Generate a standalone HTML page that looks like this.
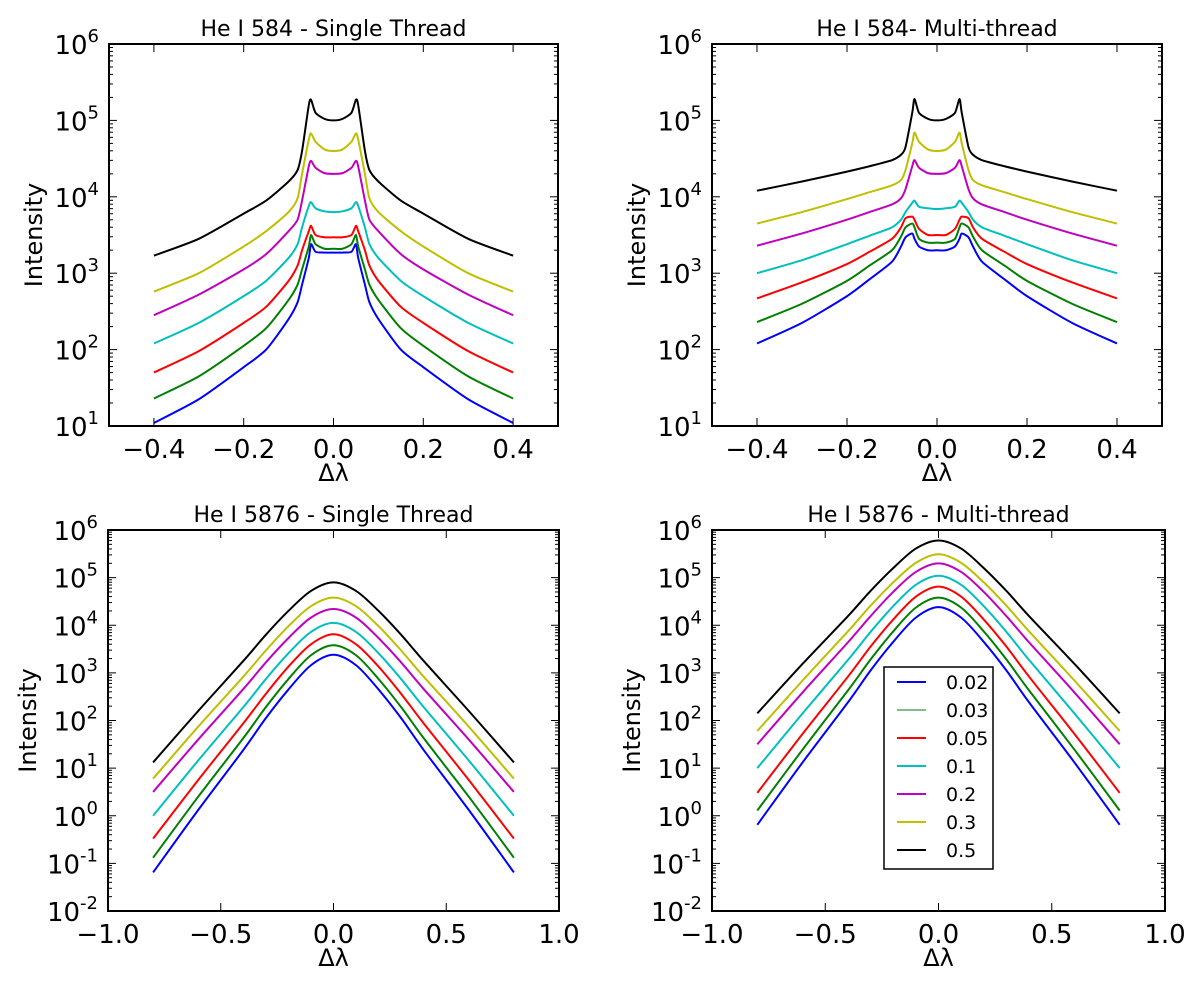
<!DOCTYPE html>
<html><head><meta charset="utf-8"><style>
html,body{margin:0;padding:0;background:#fff;}
svg text{font-family:"DejaVu Sans","Liberation Sans",sans-serif;fill:#000;}
</style></head><body>
<svg id="fig" width="1200" height="993" viewBox="0 0 1200 993" xmlns="http://www.w3.org/2000/svg"></svg>
<script>
const seriesNames = ["0.02","0.03","0.05","0.1","0.2","0.3","0.5"];
const colors = ["#0000ff","#008000","#ff0000","#00bfbf","#bf00bf","#bfbf00","#000000"];

// Top panels: half-profile x grid (mirrored), values are log10(intensity)
const xTop = [-0.4,-0.3,-0.2,-0.15,-0.1,-0.08,-0.07,-0.055,-0.05,-0.04,-0.02,0];
const tlBlue    = [1.04,1.35,1.77,2.0,2.4,2.62,2.85,3.2,3.38,3.28,3.27,3.27];
const tlGreen   = [1.36,1.65,2.05,2.28,2.65,2.85,3.05,3.35,3.5,3.38,3.32,3.32];
const tlRed     = [1.7,1.98,2.35,2.56,2.9,3.1,3.3,3.55,3.62,3.5,3.47,3.47];
const tlCyan    = [2.08,2.35,2.7,2.9,3.2,3.38,3.6,3.88,3.93,3.85,3.81,3.8];
const tlMagenta = [2.45,2.72,3.05,3.25,3.55,3.7,3.95,4.4,4.47,4.38,4.31,4.3];
const tlYellow  = [2.76,3.0,3.35,3.55,3.8,3.98,4.3,4.75,4.83,4.72,4.62,4.6];
const tlBlack   = [3.23,3.45,3.78,3.95,4.2,4.35,4.6,5.2,5.27,5.1,5.02,5.0];

const trBlue    = [2.08,2.35,2.7,2.92,3.15,3.35,3.47,3.52,3.45,3.35,3.3,3.3];
const trGreen   = [2.36,2.6,2.9,3.1,3.3,3.48,3.6,3.65,3.6,3.45,3.4,3.4];
const trRed     = [2.67,2.88,3.12,3.28,3.45,3.6,3.72,3.74,3.7,3.58,3.5,3.5];
const trCyan    = [3.0,3.17,3.38,3.49,3.6,3.7,3.8,3.92,3.95,3.87,3.85,3.84];
const trMagenta = [3.36,3.52,3.7,3.8,3.9,3.98,4.1,4.4,4.48,4.38,4.31,4.3];
const trYellow  = [3.65,3.8,3.97,4.06,4.15,4.22,4.35,4.7,4.84,4.72,4.62,4.6];
const trBlack   = [4.08,4.2,4.33,4.4,4.48,4.55,4.65,5.1,5.28,5.1,5.02,5.0];

// Bottom panels
const xBot = [-0.8,-0.6,-0.4,-0.3,-0.2,-0.1,0];
const blBlue    = [-1.19,0.12,1.38,2.05,2.65,3.16,3.38];
const blGreen   = [-0.88,0.40,1.63,2.28,2.87,3.37,3.58];
const blRed     = [-0.48,0.75,1.94,2.56,3.13,3.60,3.81];
const blCyan    = [0.0,1.16,2.28,2.87,3.41,3.86,4.05];
const blMagenta = [0.50,1.60,2.66,3.22,3.73,4.16,4.34];
const blYellow  = [0.78,1.87,2.92,3.47,3.98,4.40,4.58];
const blBlack   = [1.12,2.2,3.25,3.8,4.3,4.72,4.9];

const brBlue    = [-0.19,1.12,2.38,3.05,3.65,4.16,4.38];
const brGreen   = [0.11,1.39,2.63,3.28,3.87,4.37,4.58];
const brRed     = [0.48,1.72,2.92,3.55,4.12,4.60,4.81];
const brCyan    = [1.0,2.15,3.27,3.86,4.40,4.85,5.04];
const brMagenta = [1.50,2.59,3.64,4.19,4.70,5.12,5.30];
const brYellow  = [1.78,2.84,3.87,4.41,4.90,5.31,5.49];
const brBlack   = [2.15,3.19,4.19,4.72,5.20,5.61,5.78];

const xTicksTop = [-0.4,-0.2,0.0,0.2,0.4];
const xTickLabelsTop = ["\u22120.4","\u22120.2","0.0","0.2","0.4"];
const xTicksBot = [-1.0,-0.5,0.0,0.5,1.0];
const xTickLabelsBot = ["\u22121.0","\u22120.5","0.0","0.5","1.0"];

const NS="http://www.w3.org/2000/svg";
const svg=document.getElementById('fig');
function mk(tag,attrs,parent){const e=document.createElementNS(NS,tag);for(const k in attrs)e.setAttribute(k,attrs[k]);(parent||svg).appendChild(e);return e;}

function panel(cfg){
  const g=mk('g',{});
  
  
  const {L,R,T,B,xmin,xmax,ymin,ymax}=cfg;
  const sx=v=>L+(v-xmin)/(xmax-xmin)*(R-L);
  const sy=v=>B-(v-ymin)/(ymax-ymin)*(B-T);
  // curves
  cfg.series.forEach((half,i)=>{
    const xs=cfg.xs.slice(), ys=half.slice();
    for(let j=cfg.xs.length-2;j>=0;j--){xs.push(-cfg.xs[j]);ys.push(half[j]);}
    const pts=xs.map((x,j)=>[sx(x),sy(ys[j])]);
    let d='M'+pts[0][0].toFixed(2)+','+pts[0][1].toFixed(2);
    for(let j=0;j<pts.length-1;j++){
      const p0=pts[Math.max(0,j-1)],p1=pts[j],p2=pts[j+1],p3=pts[Math.min(pts.length-1,j+2)];
      const t=cfg.smooth;
      const c1=[p1[0]+(p2[0]-p0[0])*t,p1[1]+(p2[1]-p0[1])*t];
      const c2=[p2[0]-(p3[0]-p1[0])*t,p2[1]-(p3[1]-p1[1])*t];
      d+='C'+c1[0].toFixed(2)+','+c1[1].toFixed(2)+' '+c2[0].toFixed(2)+','+c2[1].toFixed(2)+' '+p2[0].toFixed(2)+','+p2[1].toFixed(2);
    }
    const p=mk('path',{d:d,fill:'none',stroke:colors[i],'stroke-width':2,'stroke-linejoin':'round'},g);
    
    
  });
  // frame
  const fr=mk('rect',{x:L,y:T,width:R-L,height:B-T,fill:'none',stroke:'#000','stroke-width':2},g);
  
  
  // y ticks
  for(let e=ymin;e<=ymax;e++){
    const y=sy(e);
    mk('line',{x1:L,x2:L+8,y1:y,y2:y,stroke:'#000','stroke-width':1},g);
    mk('line',{x1:R,x2:R-8,y1:y,y2:y,stroke:'#000','stroke-width':1},g);
    if(e<ymax){for(let m=2;m<=9;m++){const ym=sy(e+Math.log10(m));
      mk('line',{x1:L,x2:L+4,y1:ym,y2:ym,stroke:'#000','stroke-width':1},g);
      mk('line',{x1:R,x2:R-4,y1:ym,y2:ym,stroke:'#000','stroke-width':1},g);}}
    const t=mk('text',{x:L-10,y:y+10,'font-size':26,'text-anchor':'end'},g);
    
    
    const a=mk('tspan',{},t);a.textContent='10';
    const b=mk('tspan',{dy:-12,'font-size':18},t);b.textContent=String(e).replace('-','-');
  }
  // x ticks
  cfg.xt.forEach((v,i)=>{
    const x=sx(v);
    mk('line',{x1:x,x2:x,y1:B,y2:B-8,stroke:'#000','stroke-width':1},g);
    mk('line',{x1:x,x2:x,y1:T,y2:T+8,stroke:'#000','stroke-width':1},g);
    const t=mk('text',{x:x,y:B+32,'font-size':26,'text-anchor':'middle'},g);
    
    
    t.textContent=cfg.xtl[i];
  });
  const title=mk('text',{x:(L+R)/2,y:T-8,'font-size':22,'text-anchor':'middle'},g);
  
  
  title.textContent=cfg.title;
  const xl=mk('text',{x:(L+R)/2,y:B+55,'font-size':24,'text-anchor':'middle'},g);
  
  
  xl.textContent='\u0394\u03bb';
  const yx=cfg.ylx, yy=(T+B)/2;
  const yl=mk('text',{x:yx,y:yy,'font-size':24,'text-anchor':'middle',transform:'rotate(-90 '+yx+' '+yy+')'},g);
  
  
  yl.textContent='Intensity';
}

panel({name:'panel-584-single',L:109,R:558,T:44,B:426,xmin:-0.5,xmax:0.5,ymin:1,ymax:6,xs:xTop,smooth:0.12,
  series:[tlBlue,tlGreen,tlRed,tlCyan,tlMagenta,tlYellow,tlBlack],xt:xTicksTop,xtl:xTickLabelsTop,title:'He I 584 - Single Thread',ylx:42});
panel({name:'panel-584-multi',L:712,R:1162,T:44,B:426,xmin:-0.5,xmax:0.5,ymin:1,ymax:6,xs:xTop,smooth:0.12,
  series:[trBlue,trGreen,trRed,trCyan,trMagenta,trYellow,trBlack],xt:xTicksTop,xtl:xTickLabelsTop,title:'He I 584- Multi-thread',ylx:645});
panel({name:'panel-5876-single',L:108,R:559,T:530,B:911,xmin:-1,xmax:1,ymin:-2,ymax:6,xs:xBot,smooth:0.16,
  series:[blBlue,blGreen,blRed,blCyan,blMagenta,blYellow,blBlack],xt:xTicksBot,xtl:xTickLabelsBot,title:'He I 5876 - Single Thread',ylx:36});
panel({name:'panel-5876-multi',L:712,R:1165,T:530,B:911,xmin:-1,xmax:1,ymin:-2,ymax:6,xs:xBot,smooth:0.16,
  series:[brBlue,brGreen,brRed,brCyan,brMagenta,brYellow,brBlack],xt:xTicksBot,xtl:xTickLabelsBot,title:'He I 5876 - Multi-thread',ylx:640});

// legend
const lg=mk('g',{});


mk('rect',{x:884,y:667,width:109,height:202,fill:'#fff',stroke:'#000','stroke-width':1.5},lg);
seriesNames.forEach((n,i)=>{
  const y=682+i*28;
  const e=mk('g',{},lg);
  
  
  mk('line',{x1:897,x2:926,y1:y,y2:y,stroke:colors[i],'stroke-width':i==1?1:2},e);
  const t=mk('text',{x:946,y:y+7,'font-size':19},e);
  t.textContent=n;
});
</script>
</body></html>
